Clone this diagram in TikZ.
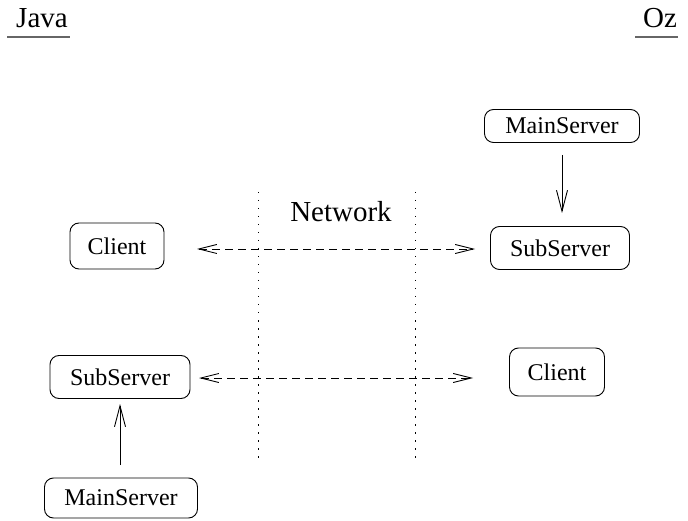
\documentclass[tikz,border=0pt]{standalone}
\usepackage{fontspec}
\setmainfont{Liberation Serif}
\usetikzlibrary{arrows.meta}
\begin{document}
\begin{tikzpicture}[x=1pt,y=-1pt,
  box/.style={draw,line width=0.9pt,rounded corners=9pt,inner sep=0pt,font=\fontsize{24}{28}\selectfont},
  lbl/.style={font=\fontsize{29}{34}\selectfont,inner sep=0pt},
  tip/.style={-{Straight Barb[length=21pt,width=11pt,line width=0.9pt]}},
  link/.style={line width=0.9pt,dash pattern=on 8pt off 5pt,{Straight Barb[length=18pt,width=9pt,line width=0.9pt]}-{Straight Barb[length=18pt,width=9pt,line width=0.9pt]}},
  net/.style={line width=1pt,dash pattern=on 1.5pt off 6.5pt}]
\useasboundingbox (0,0) rectangle (688,521);
\node[lbl,anchor=base] (java) at (42,28) {Java};
\node[lbl,anchor=base] (oz) at (660,28) {Oz};
\draw[line width=1.4pt,gray!80!black] (7,37) -- (70,37);
\draw[line width=1.4pt,gray!80!black] (635,37) -- (678,37);
\node[lbl] (network) at (341,212) {Network};
\coordinate (d1t) at (258,192); \coordinate (d1b) at (258,462);
\coordinate (d2t) at (415,192); \coordinate (d2b) at (415,462);
\draw[net] (d1t) -- (d1b);
\draw[net] (d2t) -- (d2b);
\node[box,minimum width=155pt,minimum height=33pt] (ms1) at (562,126) {MainServer};
\node[box,minimum width=139pt,minimum height=43pt] (ss1) at (560,248) {SubServer};
\node[box,minimum width=94pt,minimum height=46pt] (c1) at (117,246) {Client};
\node[box,minimum width=140pt,minimum height=43pt] (ss2) at (120,377) {SubServer};
\node[box,minimum width=95pt,minimum height=48pt] (c2) at (557,372) {Client};
\node[box,minimum width=153pt,minimum height=40pt] (ms2) at (121,498) {MainServer};
\coordinate (a1s) at (562,155); \coordinate (a1e) at (562,213);
\coordinate (a2s) at (120,465); \coordinate (a2e) at (120,404);
\coordinate (l1s) at (197,249); \coordinate (l1e) at (475,249);
\coordinate (l2s) at (199,378); \coordinate (l2e) at (473,378);
\draw[tip,line width=0.9pt] (a1s) -- (a1e);
\draw[tip,line width=0.9pt] (a2s) -- (a2e);
\draw[link] (l1s) -- (l1e);
\draw[link] (l2s) -- (l2e);
\end{tikzpicture}
\end{document}
